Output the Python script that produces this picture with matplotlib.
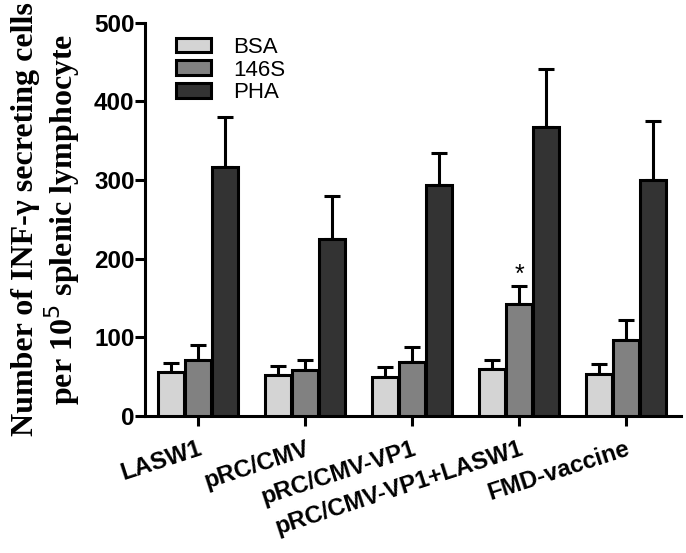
from matplotlib import pyplot as plt
import numpy as np

groups = ["LASW1", "pRC/CMV", "pRC/CMV-VP1", "pRC/CMV-VP1+LASW1", "FMD-vaccine"]
series = ["BSA", "146S", "PHA"]
bsa = [56, 52, 50, 60, 53]
bsa_err = [12, 11, 12, 11, 13]
s146 = [71, 59, 69, 142, 97]
s146_err = [19, 12, 19, 23, 25]
pha = [317, 225, 294, 367, 300]
pha_err = [63, 55, 41, 74, 75]
colors = ["#d4d4d4", "#818181", "#333333"]

plt.rcParams['font.family'] = ['Liberation Sans', 'DejaVu Sans']

fig = plt.figure(figsize=(6.86, 5.53), dpi=100)
ax = fig.add_axes([0.2114, 0.2477, 0.7813, 0.7112])

x = np.arange(len(groups))
w = 0.245
offs = [-0.25, 0.0, 0.25]
vals = [bsa, s146, pha]
errs = [bsa_err, s146_err, pha_err]
for i in range(3):
    ax.bar(x + offs[i], vals[i], w, color=colors[i], edgecolor="black",
           linewidth=2.2, label=series[i], zorder=3)
    ax.errorbar(x + offs[i], vals[i], yerr=[np.zeros(5), errs[i]], fmt="none",
                ecolor="black", elinewidth=2.2, capsize=5.5, capthick=2.2, zorder=2)

# significance mark
ax.text(x[3] + offs[1], s146[3] + s146_err[3] - 1, "*", ha="center", va="bottom",
        fontsize=18)

ax.set_xlim(-0.495, 4.514)
ax.set_ylim(0, 500)
ax.set_yticks([0, 100, 200, 300, 400, 500])
ax.set_xticks(x)
ax.set_xticklabels(groups, rotation=18, ha="right", rotation_mode="anchor",
                   fontsize=17.3, fontweight="bold")
for lab in ax.get_yticklabels():
    lab.set_fontweight("bold")
    lab.set_fontsize(17.5)
ax.tick_params(axis="both", width=2.2, length=7, direction="out")
ax.tick_params(axis="x", pad=8)
ax.tick_params(axis="y", pad=0.5)
for s in ["top", "right"]:
    ax.spines[s].set_visible(False)
for s in ["left", "bottom"]:
    ax.spines[s].set_linewidth(2.2)

ax.set_ylabel("Number of INF-\u03b3 secreting cells\nper 10$^5$ splenic lymphocyte",
              fontsize=23, fontweight="bold", family=["Liberation Serif", "DejaVu Serif"],
              linespacing=1.05, labelpad=9)

leg = ax.legend(loc="upper left", bbox_to_anchor=(0.02, 1.015), frameon=False,
                fontsize=16, handlelength=1.6, handleheight=0.65, labelspacing=0.08,
                handletextpad=1.0)

fig.savefig("out.png", dpi=100)
